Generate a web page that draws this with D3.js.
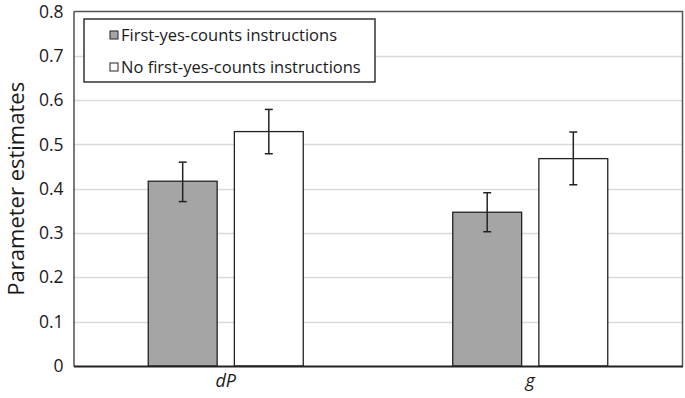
<!DOCTYPE html>
<meta charset="utf-8">
<style>
html, body { margin: 0; padding: 0; background: #fff; }
text { font-family: "Open Sans", "Noto Sans", sans-serif; fill: #1a1a1a; }
</style>
<body>
<script src="https://d3js.org/d3.v7.min.js"></script>
<script>

var width = 685,
    height = 398;

// data
var params = ["dP", "g"];
var conditions = ["First-yes-counts instructions", "No first-yes-counts instructions"];
var fills = ["#a5a5a5", "#fff"];
var estimates = [[0.417, 0.529], [0.347, 0.468]];
var errLow = [[0.371, 0.479], [0.303, 0.409]];
var errHigh = [[0.460, 0.579], [0.391, 0.528]];
var yTicks = [0, 0.1, 0.2, 0.3, 0.4, 0.5, 0.6, 0.7, 0.8];

var margin = {top: 11.5, right: 2.5, bottom: 32, left: 73.5};

var svg = d3.select("body").append("svg")
    .attr("width", width)
    .attr("height", height);

var x = d3.scaleBand()
    .domain(params)
    .range([margin.left, width - margin.right]);

var x1 = d3.scaleBand()
    .domain(conditions)
    .range([-77.5, 77.5])
    .paddingInner(0.2);

var y = d3.scaleLinear()
    .domain([0, 0.8])
    .range([height - margin.bottom, margin.top]);

// gridlines
svg.append("g")
  .selectAll("line")
  .data(yTicks.slice(1, -1))
  .enter().append("line")
    .attr("x1", margin.left)
    .attr("x2", width - margin.right)
    .attr("y1", function(d) { return Math.round(y(d)) + 0.5; })
    .attr("y2", function(d) { return Math.round(y(d)) + 0.5; })
    .attr("stroke", "#d9d9d9")
    .attr("stroke-width", 1.5);

// frame top/right
svg.append("path")
    .attr("d", "M" + margin.left + "," + y(0.8) + "H" + x.range()[1] + "V" + y(0))
    .attr("fill", "none")
    .attr("stroke", "#555")
    .attr("stroke-width", 1.5);

// bars
var groups = svg.append("g")
  .selectAll("g")
  .data(params)
  .enter().append("g")
    .attr("transform", function(d) { return "translate(" + (x(d) + x.bandwidth() / 2) + ",0)"; });

groups.selectAll("rect")
  .data(function(d, i) { return conditions.map(function(c, j) { return {c: c, j: j, v: estimates[i][j]}; }); })
  .enter().append("rect")
    .attr("x", function(d) { return x1(d.c); })
    .attr("width", x1.bandwidth())
    .attr("y", function(d) { return y(d.v); })
    .attr("height", function(d) { return y(0) - y(d.v); })
    .attr("fill", function(d) { return fills[d.j]; })
    .attr("stroke", "#222")
    .attr("stroke-width", 1.3);

// error bars
var eb = groups.selectAll("g.err")
  .data(function(d, i) { return conditions.map(function(c, j) { return {c: c, lo: errLow[i][j], hi: errHigh[i][j]}; }); })
  .enter().append("g")
    .attr("class", "err")
    .attr("stroke", "#222")
    .attr("stroke-width", 1.5);

eb.append("line")
    .attr("x1", function(d) { return x1(d.c) + x1.bandwidth() / 2; })
    .attr("x2", function(d) { return x1(d.c) + x1.bandwidth() / 2; })
    .attr("y1", function(d) { return y(d.lo); })
    .attr("y2", function(d) { return y(d.hi); });

eb.selectAll("line.cap")
  .data(function(d) { return [d.lo, d.hi].map(function(v) { return {c: d.c, v: v}; }); })
  .enter().append("line")
    .attr("class", "cap")
    .attr("x1", function(d) { return x1(d.c) + x1.bandwidth() / 2 - 4; })
    .attr("x2", function(d) { return x1(d.c) + x1.bandwidth() / 2 + 4; })
    .attr("y1", function(d) { return y(d.v); })
    .attr("y2", function(d) { return y(d.v); });

// y axis
var yAxis = svg.append("g")
    .attr("transform", "translate(" + margin.left + ",0)")
    .call(d3.axisLeft(y).tickValues(yTicks).tickSize(0).tickPadding(10)
      .tickFormat(function(d) { return d === 0 ? "0" : d3.format(".1f")(d); }));
yAxis.select(".domain").attr("stroke", "#333").attr("stroke-width", 1.3);
yAxis.selectAll("text").style("font-size", "17.5px");

// x axis
var xAxis = svg.append("g")
    .attr("transform", "translate(0," + y(0) + ")")
    .call(d3.axisBottom(x).tickSize(0).tickPadding(8));
xAxis.select(".domain").attr("stroke", "#222").attr("stroke-width", 2.2);
xAxis.selectAll("text").style("font-size", "18px").style("font-style", "italic");

// y title
svg.append("text")
    .attr("transform", "translate(24," + ((y(0) + y(0.8)) / 2) + ") rotate(-90)")
    .attr("text-anchor", "middle")
    .style("font-size", "22px")
    .text("Parameter estimates");

// legend
var legend = svg.append("g").attr("transform", "translate(84,19)");
legend.append("rect")
    .attr("width", 291)
    .attr("height", 63)
    .attr("fill", "#fff")
    .attr("stroke", "#333")
    .attr("stroke-width", 1.5);

var li = legend.selectAll("g.item")
  .data(conditions)
  .enter().append("g")
    .attr("class", "item")
    .attr("transform", function(d, i) { return "translate(26," + (12 + i * 32) + ")"; });

li.append("rect")
    .attr("width", 8)
    .attr("height", 8)
    .attr("fill", function(d, i) { return fills[i]; })
    .attr("stroke", "#222")
    .attr("stroke-width", 1);

li.append("text")
    .attr("x", 11)
    .attr("y", 4)
    .attr("dy", "0.35em")
    .style("font-size", "16.5px")
    .text(function(d) { return d; });

</script>
</body>
